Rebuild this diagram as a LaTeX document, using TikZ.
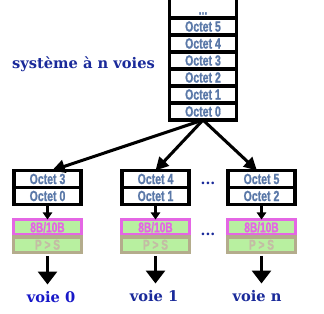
\documentclass[tikz,border=0pt]{standalone}
\usepackage{fontspec}
\usepackage{xcolor}
\usepackage{tikz}
\usetikzlibrary{arrows.meta, positioning}
\setmainfont{DejaVu Serif}
\newfontfamily\narrowfont[FakeStretch=0.72, FakeBold=1]{Liberation Sans Bold}
\definecolor{octetblue}{HTML}{5A78A8}
\definecolor{voieblue}{HTML}{1A2A9A}
\definecolor{voiebright}{HTML}{1818C8}
\definecolor{codmag}{HTML}{E466E4}
\definecolor{codgreen}{HTML}{B8F0A0}
\definecolor{pstan}{HTML}{B4AC8C}
\definecolor{pstext}{HTML}{C4BCA4}

\tikzset{
    octet/.style={draw, line width=3.4pt, fill=white, minimum width=2.01cm,
        minimum height=0.51cm, inner sep=0pt, outer sep=0pt, text=octetblue,
        font=\narrowfont\fontsize{12.5}{12.5}\selectfont},
    codeur/.style={draw=codmag, fill=codgreen, line width=2.6pt, minimum width=2.04cm,
        minimum height=0.465cm, inner sep=0pt, outer sep=0pt, text=codmag,
        font=\narrowfont\fontsize{12}{12}\selectfont},
    serial/.style={codeur, draw=pstan, text=pstext},
    voie/.style={text=voieblue, font=\bfseries\fontsize{12.5}{12.5}\selectfont},
    fanarrow/.style={line width=2.6pt, -{Triangle[length=11pt, width=11pt]}},
    smallarrow/.style={line width=2.6pt, -{Triangle[length=6pt, width=8pt]}},
    bigarrow/.style={line width=3.4pt, -{Triangle[length=11pt, width=16pt]}},
    points/.style={text=voieblue, font=\bfseries\fontsize{12}{12}\selectfont}
}

\begin{document}
\begin{tikzpicture}[x=0.03cm, y=-0.03cm]
    \useasboundingbox (0,0) rectangle (324,314);

    % pile d'octets
    \node[octet] (o0) at (203,111.5) {Octet 0};
    \foreach \i [count=\j from 0] in {1,...,5}
        \node[octet, above=0pt of o\j] (o\i) {Octet \i};
    \node[octet, above=0pt of o5, minimum height=0.7cm] (otop) {\raisebox{-0.25cm}[0pt][0pt]{...}};
    \node[voie] (titre) at (83.5,64) {système à n voies};

    % voies
    \node[octet] (a3) at (47.5,179) {Octet 3};
    \node[octet, below=0pt of a3] (a0) {Octet 0};
    \node[octet] (b4) at (155.5,179) {Octet 4};
    \node[octet, below=0pt of b4] (b1) {Octet 1};
    \node[octet] (c5) at (261.5,179) {Octet 5};
    \node[octet, below=0pt of c5] (c2) {Octet 2};

    \node[codeur] (ca) at (47.5,227.25) {8B/10B};
    \node[serial, below=0.06cm of ca] (pa) {P > S};
    \node[codeur] (cb) at (155.5,227.25) {8B/10B};
    \node[serial, below=0.06cm of cb] (pb) {P > S};
    \node[codeur] (cc) at (261.5,227.25) {8B/10B};
    \node[serial, below=0.06cm of cc] (pc) {P > S};

    \node[points] (d1) at (208,183) {...};
    \node[points] (d2) at (208,234) {...};

    \node[voie, text=voiebright] (va) at (51,297) {voie 0};
    \node[voie] (vb) at (154,296) {voie 1};
    \node[voie] (vc) at (257,296) {voie n};

    % fleches
    \draw[fanarrow] (o0.south) -- ([xshift=0.135cm]a3.north);
    \draw[fanarrow] (o0.south) -- (b4.north);
    \draw[fanarrow] (o0.south) -- ([xshift=-0.135cm]c5.north);
    \foreach \o/\c in {a0/ca, b1/cb, c2/cc}
        \draw[smallarrow] (\o.south) -- (\c.north);
    \foreach \p/\v in {pa/va, pb/vb, pc/vc}
        \draw[bigarrow] ([yshift=-0.1cm]\p.south) -- ([yshift=0.08cm]\p.south |- \v.north);
\end{tikzpicture}
\end{document}
